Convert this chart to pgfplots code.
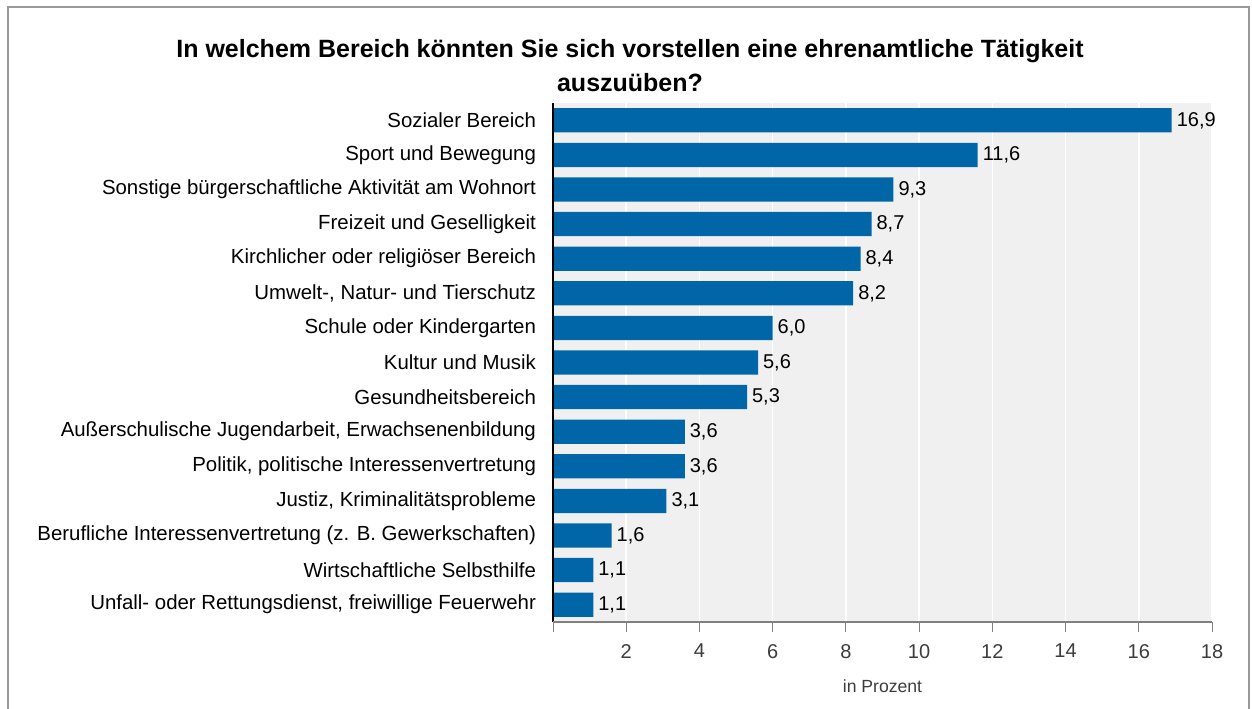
\documentclass[border=0pt]{standalone}
\usepackage{pgfplots}
\pgfplotsset{compat=1.18}
\usepackage{fontspec}
\setmainfont{Liberation Sans}
\definecolor{barblue}{RGB}{0,102,168}
\definecolor{plotbg}{RGB}{240,240,240}
\definecolor{ticklab}{RGB}{60,60,60}
\begin{document}
\begin{tikzpicture}[x=1pt,y=1pt]
\useasboundingbox (0,0) rectangle (626,354);
\draw[gray!80, line width=0.6pt] (4,-3) -- (4,350.5) -- (624.5,350.5) -- (624.5,-3);
\node[font=\fontsize{12.5}{15}\selectfont\bfseries, align=center] at (315,321)
  {In welchem Bereich könnten Sie sich vorstellen eine ehrenamtliche Tätigkeit\\[2pt] auszuüben?};
\begin{axis}[
  at={(276.5pt,43pt)}, anchor=south west,
  scale only axis, width=329.5pt, height=259.5pt,
  xbar, bar width=0.7,
  xmin=0, xmax=18, ymin=0.5, ymax=15.5,
  axis background/.style={fill=plotbg},
  axis line style={draw=none},
  xtick={0,2,...,18}, xticklabels={,2,4,6,8,10,12,14,16,18},
  xmajorgrids, grid style={white, line width=0.8pt},
  major tick length=5pt,
  xtick pos=bottom, xtick align=outside,
  x tick style={gray, line width=0.5pt},
  ytick={1,...,15},
  yticklabels={{Unfall- oder Rettungsdienst, freiwillige Feuerwehr},
    Wirtschaftliche Selbsthilfe,
    Berufliche Interessenvertretung (z. B. Gewerkschaften),
    {Justiz, Kriminalitätsprobleme},
    {Politik, politische Interessenvertretung},
    {Außerschulische Jugendarbeit, Erwachsenenbildung},
    Gesundheitsbereich,
    Kultur und Musik,
    Schule oder Kindergarten,
    {Umwelt-, Natur- und Tierschutz},
    Kirchlicher oder religiöser Bereich,
    Freizeit und Geselligkeit,
    Sonstige bürgerschaftliche Aktivität am Wohnort,
    Sport und Bewegung,
    Sozialer Bereich},
  y tick style={draw=none},
  yticklabel style={font=\fontsize{10.2}{12}\selectfont, xshift=0pt},
  xticklabel style={font=\fontsize{10}{12}\selectfont, text=ticklab, yshift=-2.5pt},
  /pgf/number format/assume math mode=true,
  xlabel={in Prozent},
  xlabel style={font=\fontsize{8.8}{10}\selectfont, text=ticklab, yshift=-4pt},
  nodes near coords,
  nodes near coords style={font=\fontsize{10}{12}\selectfont, anchor=west, xshift=-1pt,
    /pgf/number format/fixed, /pgf/number format/fixed zerofill,
    /pgf/number format/precision=1, /pgf/number format/use comma},
  clip=false,
]
\addplot[fill=barblue, draw=none] coordinates {
 (1.1,1) (1.1,2) (1.6,3) (3.1,4) (3.6,5) (3.6,6) (5.3,7) (5.6,8) (6.0,9)
 (8.2,10) (8.4,11) (8.7,12) (9.3,13) (11.6,14) (16.9,15)};
\draw[black, line width=0.6pt] (axis cs:0,0.5) -- (axis cs:0,15.5);
\draw[gray, line width=0.6pt] (axis cs:0,0.5) -- (axis cs:18,0.5);
\end{axis}
\end{tikzpicture}
\end{document}
